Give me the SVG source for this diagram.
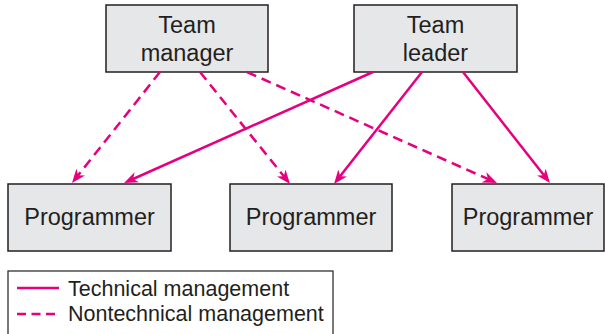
<svg xmlns="http://www.w3.org/2000/svg" width="605" height="334" viewBox="0 0 605 334">
<style>
.box{fill:#E6E7E8;stroke:#231F20;stroke-width:1.5}
.lbl{font-family:"Liberation Sans",Arial,sans-serif;font-size:23.5px;fill:#231F20;text-anchor:middle}
.leg{font-family:"Liberation Sans",Arial,sans-serif;font-size:21.5px;fill:#231F20}
.tech{stroke:#E6007E;stroke-width:2.5;fill:none}
.nontech{stroke:#E6007E;stroke-width:2.5;fill:none;stroke-dasharray:10 6}
</style>
<defs>
<marker id="arr" markerUnits="userSpaceOnUse" markerWidth="15" markerHeight="12" refX="9" refY="5.5" orient="auto">
<path d="M0,0 L14,5.5 L0,11 L4,5.5 Z" fill="#E6007E"/>
</marker>
</defs>
<g id="team-manager">
<rect class="box" x="106" y="5" width="162" height="67"/>
<text class="lbl" x="187" y="33">Team</text>
<text class="lbl" x="187" y="61">manager</text>
</g>
<g id="team-leader">
<rect class="box" x="354" y="5" width="163" height="67"/>
<text class="lbl" x="435.5" y="33">Team</text>
<text class="lbl" x="435.5" y="61">leader</text>
</g>
<g id="programmer-1">
<rect class="box" x="8" y="184" width="163" height="67"/>
<text class="lbl" x="89.5" y="225">Programmer</text>
</g>
<g id="programmer-2">
<rect class="box" x="230" y="184" width="162" height="67"/>
<text class="lbl" x="311" y="225">Programmer</text>
</g>
<g id="programmer-3">
<rect class="box" x="452" y="184" width="152" height="67"/>
<text class="lbl" x="528" y="225">Programmer</text>
</g>
<g id="connectors">
<line class="nontech" x1="160" y1="72" x2="75.1" y2="179.1" marker-end="url(#arr)"/>
<line class="nontech" x1="200" y1="72" x2="286.9" y2="180.1" marker-end="url(#arr)"/>
<line class="nontech" x1="247" y1="72" x2="492.4" y2="181" marker-end="url(#arr)"/>
<line class="tech" x1="373" y1="72" x2="128.6" y2="181" marker-end="url(#arr)"/>
<line class="tech" x1="422" y1="72" x2="337.1" y2="180.1" marker-end="url(#arr)"/>
<line class="tech" x1="463" y1="72" x2="546.9" y2="179.1" marker-end="url(#arr)"/>
</g>
<g id="legend">
<rect x="8" y="271" width="325" height="70" fill="#fff" stroke="#231F20" stroke-width="1.2"/>
<line class="tech" x1="17" y1="288" x2="59" y2="288"/>
<line class="tech" x1="17" y1="314" x2="59" y2="314" stroke-dasharray="9 5.5"/>
<text class="leg" x="68" y="295.5">Technical management</text>
<text class="leg" x="68" y="320.5">Nontechnical management</text>
</g>
</svg>
